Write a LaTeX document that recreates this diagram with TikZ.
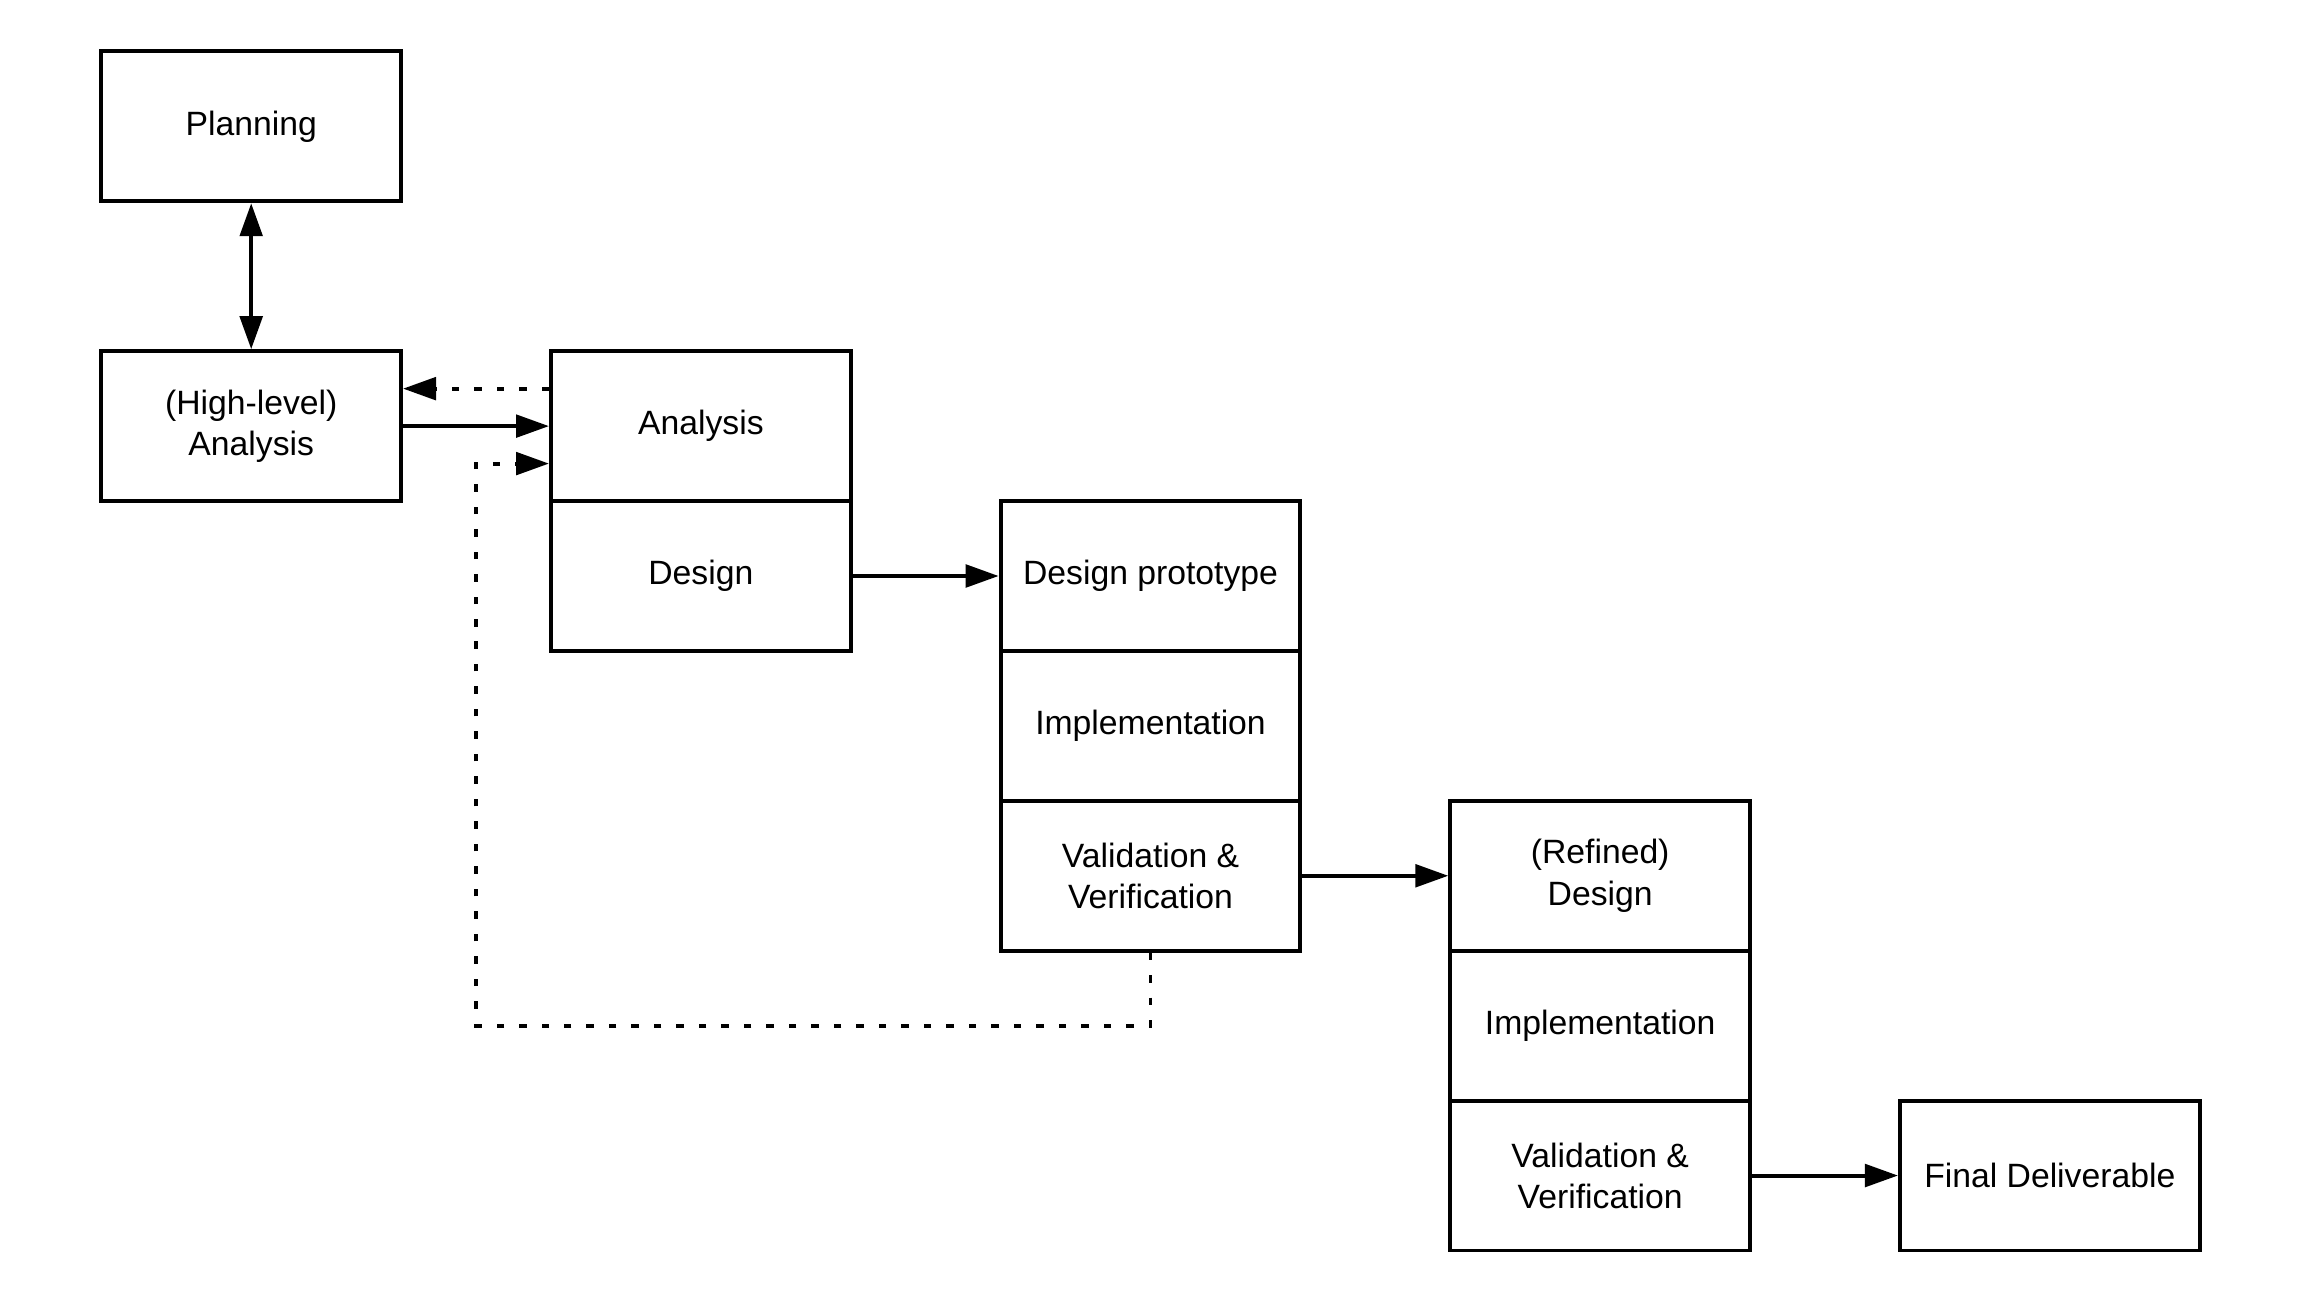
\documentclass[tikz,border=0pt]{standalone}
\usepackage{fontspec}
\setmainfont{Liberation Sans}
\usepackage{tikz}
\usetikzlibrary{arrows.meta}

\begin{document}
\begin{tikzpicture}[>/.tip={Triangle[length=2.2mm,width=1.5mm]},line width=0.75pt,
	stage/.style={draw,shape=rectangle,minimum width=2cm,minimum height=1cm,align=center,font=\fontsize{6.4}{7.8}\selectfont},
	loop back/.style={dash pattern=on 0.5mm off 1mm}]
	\useasboundingbox (-0.676,0.343) rectangle (14.696,-8.353);
	\draw (1,-0.5) node (planning) [stage] {Planning};
	\draw (1,-2.5) node (hlanalysis) [stage] {(High-level)\\Analysis};
	\draw (4,-2.5) node (analysis) [stage] {Analysis};
	\draw (4,-3.5) node (design) [stage] {Design};
	\draw (7,-3.5) node (proto) [stage] {Design prototype};
	\draw (7,-4.5) node (impl) [stage] {Implementation};
	\draw (7,-5.5) node (valid) [stage] {Validation \&\\Verification};
	\draw (10,-5.5) node (refined) [stage] {(Refined)\\Design};
	\draw (10,-6.5) node (implb) [stage] {Implementation};
	\draw (10,-7.5) node (validb) [stage] {Validation \&\\Verification};
	\draw (13,-7.5) node (final) [stage] {Final Deliverable};
	\coordinate (corner) at (2.5,-6.5);
	\path[<->] (planning) edge (hlanalysis);
	\path[->] (hlanalysis) edge (analysis);
	\draw[->,loop back] ([yshift=2.5mm]analysis.west) -- ([yshift=2.5mm]hlanalysis.east);
	\draw[->,loop back] (valid.south) |- (corner) |- ([yshift=-2.5mm]analysis.west);
	\path[->] (design) edge (proto);
	\path[->] (valid) edge (refined);
	\path[->] (validb) edge (final);
\end{tikzpicture}
\end{document}
